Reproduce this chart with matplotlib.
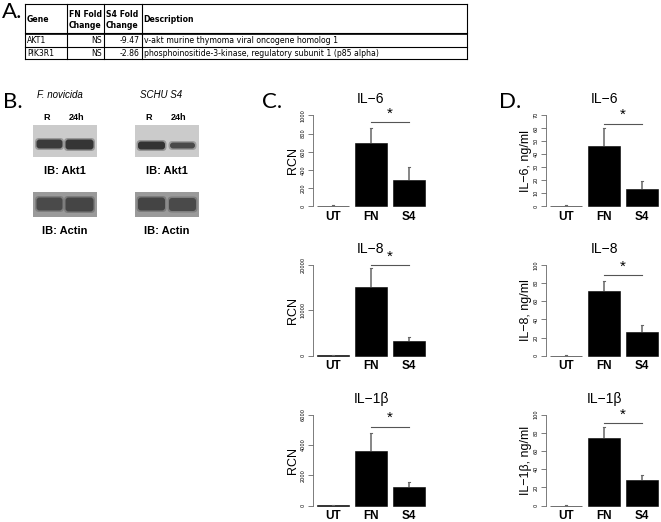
import numpy as np
import matplotlib
matplotlib.use("Agg")
import matplotlib.pyplot as plt
from matplotlib.patches import Rectangle, FancyBboxPatch

W, H = 661, 522

# table (panel A)
table_header = ["Gene", "FN Fold\nChange", "S4 Fold\nChange", "Description"]
table_genes = ["AKT1", "PIK3R1"]
table_fn = ["NS", "NS"]
table_s4 = ["-9.47", "-2.86"]
table_desc = ["v-akt murine thymoma viral oncogene homolog 1",
              "phosphoinositide-3-kinase, regulatory subunit 1 (p85 alpha)"]

# bar data (panels C and D)
categories = ["UT", "FN", "S4"]
c_il6 = [3, 692, 289]
c_il6_err = [8, 165, 146]
c_il8 = [80, 15100, 3150]
c_il8_err = [170, 4240, 1010]
c_il1b = [15, 3610, 1250]
c_il1b_err = [45, 1210, 330]
d_il6 = [0.2, 46.2, 13.4]
d_il6_err = [0.6, 14.1, 6.4]
d_il8 = [0.2, 70.8, 25.9]
d_il8_err = [0.3, 11.8, 8.1]
d_il1b = [0.2, 74.3, 28.0]
d_il1b_err = [0.3, 12.2, 5.5]

fig = plt.figure(figsize=(W / 100, H / 100), dpi=100)
ov = fig.add_axes([0, 0, 1, 1])
ov.set_xlim(0, W)
ov.set_ylim(H, 0)
ov.axis("off")

letter_font = dict(family="Lato", fontsize=16, va="center", ha="left")
ov.text(2, 12, "A.", **letter_font)
ov.text(3, 102, "B.", **letter_font)
ov.text(262, 102, "C.", **letter_font)
ov.text(499, 102, "D.", **letter_font)

# ---- panel A table ----
xs = [25, 66.7, 104, 141.7, 466.7]
ys = [4.3, 33.3, 46.7, 59.3]
for x in xs:
    ov.plot([x, x], [ys[0], ys[-1]], color="black", lw=0.8)
for y in ys:
    ov.plot([xs[0], xs[-1]], [y, y], color="black", lw=0.8)
ov.plot([xs[0], xs[-1]], [ys[1] + 1, ys[1] + 1], color="black", lw=0.6)
tfont = dict(family="DejaVu Sans", fontsize=5.6, va="center")
for i, h in enumerate(table_header):
    ov.text(xs[i] + 2, (ys[0] + ys[1]) / 2 + 1, h, fontweight="bold",
            linespacing=1.2, **tfont)
for r in range(len(table_genes)):
    yc = (ys[r + 1] + ys[r + 2]) / 2 + 0.5
    ov.text(xs[0] + 2, yc, table_genes[r], **tfont)
    ov.text(xs[2] - 2, yc, table_fn[r], ha="right", **tfont)
    ov.text(xs[3] - 2, yc, table_s4[r], ha="right", **tfont)
    ov.text(xs[3] + 2, yc, table_desc[r], **tfont)

# ---- panel B blots ----
bfont = dict(family="Liberation Sans", ha="center", va="center")
ov.text(60, 95, "F. novicida", style="italic", fontsize=7, **bfont)
ov.text(161, 95, "SCHU S4", style="italic", fontsize=7, **bfont)
for x0 in (33.3, 135):
    ov.text(x0 + 13.5, 117.5, "R", fontweight="bold", fontsize=6.5, **bfont)
    ov.text(x0 + 43.5, 117.5, "24h", fontweight="bold", fontsize=6.5, **bfont)
    ov.text(x0 + 31.5, 171.5, "IB: Akt1", fontweight="bold", fontsize=8, **bfont)
    ov.text(x0 + 31.5, 231, "IB: Actin", fontweight="bold", fontsize=8, **bfont)
    ov.add_patch(Rectangle((x0, 124.5), 64, 32.5, facecolor="#cbcbcb", edgecolor="none"))
    ov.add_patch(Rectangle((x0, 191.7), 64, 25.6, facecolor="#9a9a9a", edgecolor="none"))

def band(x, y, w, h, col, ax=ov):
    ax.add_patch(FancyBboxPatch((x - 1.5, y - 1.5), w + 3, h + 3,
                                boxstyle="round,pad=0,rounding_size=4",
                                facecolor=col, edgecolor="none", alpha=0.35))
    ax.add_patch(FancyBboxPatch((x, y), w, h, boxstyle="round,pad=0,rounding_size=3",
                                facecolor=col, edgecolor="none"))

band(36.5, 139.5, 26, 9, "#3a3a3a")
band(65.5, 139.5, 28, 10, "#353535")
band(36.5, 197.5, 26, 13, "#4a4a4a")
band(65.5, 197.5, 28, 14, "#454545")
band(138, 141.5, 27, 8, "#333333")
band(170, 142.5, 25, 6, "#4a4a4a")
band(138, 197.5, 27, 13, "#444444")
band(169, 198, 27, 13, "#4a4a4a")

# ---- panels C and D bars ----
pos = np.array([0.7, 1.9, 3.1])
xlo, xhi = 0.064, 3.736
gray = "#666666"

def px_axes(left, right, zero_y, top_y):
    span = zero_y - top_y
    bottom = zero_y + 0.04 * span
    top = top_y - 0.04 * span
    return fig.add_axes([left / W, 1 - bottom / H, (right - left) / W, (bottom - top) / H])

def bar_panel(left, zero_y, top_y, vals, errs, ymax, step, sig, title, ylabel):
    ax = px_axes(left, left + 116.6, zero_y, top_y)
    ax.bar(pos, vals, width=1.0, color="black", edgecolor="black", linewidth=0.4)
    for x, v, e in zip(pos, vals, errs):
        ax.plot([x, x], [v, v + e], color=gray, lw=1.1, solid_capstyle="butt")
        ax.plot([x - 0.04, x + 0.04], [v + e, v + e], color=gray, lw=0.8)
    ax.plot([pos[1], pos[2]], [sig, sig], color="#555555", lw=0.8)
    ax.text((pos[1] + pos[2]) / 2, sig + 0.015 * ymax, "*", ha="center", va="bottom",
            fontsize=11, family="Liberation Sans")
    ax.set_xlim(xlo, xhi)
    ax.set_ylim(-0.04 * ymax, 1.04 * ymax)
    for s in ("top", "right", "bottom"):
        ax.spines[s].set_visible(False)
    ax.spines["left"].set_bounds(0, ymax)
    ax.spines["left"].set_color(gray)
    ax.spines["left"].set_linewidth(0.6)
    ax.set_yticks(np.arange(0, ymax + step / 2, step))
    ax.tick_params(axis="y", length=3.5, width=0.6, color=gray, labelsize=3.6,
                   labelrotation=90, pad=1.5)
    for lab in ax.get_yticklabels():
        lab.set_va("center")
    ax.set_xticks(pos)
    ax.set_xticklabels(categories, fontweight="bold", fontsize=8.5, family="Liberation Sans")
    ax.tick_params(axis="x", length=0, pad=0.8)
    ax.set_title(title, fontsize=10, family="Liberation Sans", pad=6)
    ax.set_ylabel(ylabel, fontsize=9, family="Liberation Sans", labelpad=1)
    ax.patch.set_alpha(0)
    return ax

rows = [(206.3, 115.3), (355.7, 264.8), (505.7, 414.6)]
bar_panel(312.7, *rows[0], c_il6, c_il6_err, 1000, 200, 923, "IL\u22126", "RCN")
bar_panel(312.7, *rows[1], c_il8, c_il8_err, 20000, 10000, 20000, "IL\u22128", "RCN")
bar_panel(312.7, *rows[2], c_il1b, c_il1b_err, 6000, 2000, 5210, "IL\u22121\u03b2", "RCN")
bar_panel(545.7, *rows[0], d_il6, d_il6_err, 70, 10, 63.6, "IL\u22126", "IL\u22126, ng/ml")
bar_panel(545.7, *rows[1], d_il8, d_il8_err, 100, 20, 88.5, "IL\u22128", "IL\u22128, ng/ml")
bar_panel(545.7, *rows[2], d_il1b, d_il1b_err, 100, 20, 90.9, "IL\u22121\u03b2", "IL\u22121\u03b2, ng/ml")

fig.savefig("out.png", dpi=100)
